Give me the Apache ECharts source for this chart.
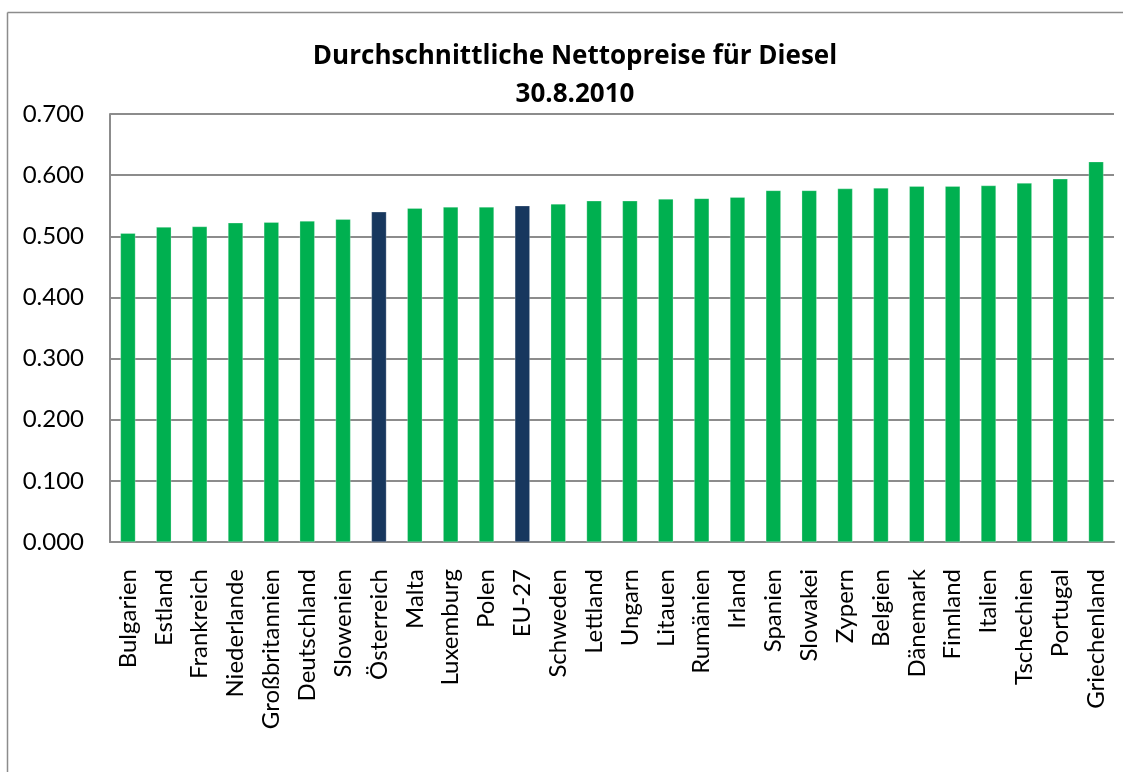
<!DOCTYPE html>
<html>
<head>
<meta charset="utf-8">
<script src="https://cdn.jsdelivr.net/npm/echarts@6/dist/echarts.min.js"></script>
<style>
  html, body { margin: 0; padding: 0; background: #fff; overflow: hidden; }
  #chart { width: 1123px; height: 772px; }
</style>
</head>
<body>
<div id="chart"></div>
<script>
var countries = ['Bulgarien', 'Estland', 'Frankreich', 'Niederlande', 'Großbritannien', 'Deutschland',
    'Slowenien', 'Österreich', 'Malta', 'Luxemburg', 'Polen', 'EU-27', 'Schweden', 'Lettland', 'Ungarn',
    'Litauen', 'Rumänien', 'Irland', 'Spanien', 'Slowakei', 'Zypern', 'Belgien', 'Dänemark', 'Finnland',
    'Italien', 'Tschechien', 'Portugal', 'Griechenland'];
var prices = [0.505, 0.515, 0.516, 0.522, 0.523, 0.525, 0.528, 0.540, 0.546, 0.548, 0.548, 0.550, 0.553,
    0.558, 0.558, 0.561, 0.562, 0.564, 0.575, 0.575, 0.578, 0.579, 0.582, 0.582, 0.583, 0.587, 0.594, 0.622];
var highlighted = ['Österreich', 'EU-27'];

var green = '#00B050';
var navy = '#17375E';
var font = 'Lato, "Open Sans", sans-serif';

var chart = echarts.init(document.getElementById('chart'));

var barData = prices.map(function (v, i) {
    return {
        value: v,
        itemStyle: { color: highlighted.indexOf(countries[i]) >= 0 ? navy : green }
    };
});

var frameStyle = { stroke: '#8c8c8c', lineWidth: 1.5 };

chart.setOption({
    animation: false,
    backgroundColor: '#fff',
    graphic: [
        // chart frame: only left and top edges fall inside the picture
        { type: 'line', shape: { x1: 7.5, y1: 12.5, x2: 7.5, y2: 800 }, style: frameStyle, silent: true },
        { type: 'line', shape: { x1: 7.5, y1: 12.5, x2: 1140, y2: 12.5 }, style: frameStyle, silent: true }
    ],
    title: {
        text: 'Durchschnittliche Nettopreise für Diesel\n30.8.2010',
        left: 570,
        textAlign: 'center',
        top: 33,
        textStyle: {
            fontFamily: '"Open Sans", sans-serif',
            fontWeight: 'bold',
            fontSize: 26,
            lineHeight: 38,
            color: '#000'
        }
    },
    grid: { left: 110, right: 9, top: 114, bottom: 230 },
    xAxis: {
        type: 'category',
        data: countries,
        axisLine: { lineStyle: { color: '#8c8c8c', width: 2 } },
        axisTick: { show: false },
        axisLabel: {
            rotate: 90,
            interval: 0,
            margin: 27,
            fontFamily: font,
            fontSize: 24,
            color: '#000'
        }
    },
    yAxis: {
        type: 'value',
        min: 0,
        max: 0.7,
        interval: 0.1,
        axisLine: { show: true, lineStyle: { color: '#8c8c8c', width: 2 } },
        axisTick: { show: false },
        splitLine: { lineStyle: { color: '#8c8c8c', width: 2 } },
        axisLabel: {
            margin: 26,
            fontFamily: font,
            fontSize: 24,
            color: '#000',
            formatter: function (v) { return v.toFixed(3); }
        }
    },
    series: [{
        type: 'bar',
        data: barData,
        barWidth: 15,
        itemStyle: { borderColor: 'rgba(255,255,255,0.5)', borderWidth: 0.5 }
    }]
});
</script>
</body>
</html>
